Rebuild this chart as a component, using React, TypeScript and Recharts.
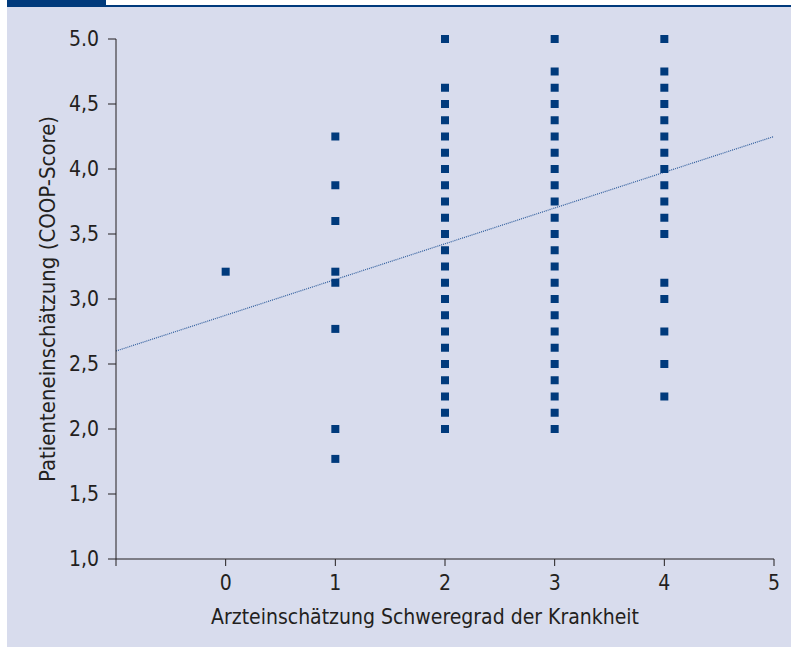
import React from "react";
import {
  ReferenceLine,
  Scatter,
  ScatterChart,
  XAxis,
  YAxis,
} from "recharts";

// Arzteinschätzung (x) -> Patienteneinschätzung (y)
const grade0 = [3.21];
const grade1 = [4.25, 3.875, 3.6, 3.21, 3.125, 2.77, 2.0, 1.77];
const grade2 = [
  5.0, 4.625, 4.5, 4.375, 4.25, 4.125, 4.0, 3.875, 3.75, 3.625, 3.5, 3.375,
  3.25, 3.125, 3.0, 2.875, 2.75, 2.625, 2.5, 2.375, 2.25, 2.125, 2.0,
];
const grade3 = [
  5.0, 4.75, 4.625, 4.5, 4.375, 4.25, 4.125, 4.0, 3.875, 3.75, 3.625, 3.5,
  3.375, 3.25, 3.125, 3.0, 2.875, 2.75, 2.625, 2.5, 2.375, 2.25, 2.125, 2.0,
];
const grade4 = [
  5.0, 4.75, 4.625, 4.5, 4.375, 4.25, 4.125, 4.0, 3.875, 3.75, 3.625, 3.5,
  3.125, 3.0, 2.75, 2.5, 2.25,
];

const xTicks = [-1, 0, 1, 2, 3, 4, 5];
const xTickLabels = ["", "0", "1", "2", "3", "4", "5"];
const yTicks = [1, 1.5, 2, 2.5, 3, 3.5, 4, 4.5, 5];
const yTickLabels = ["1,0", "1,5", "2,0", "2,5", "3,0", "3,5", "4,0", "4,5", "5.0"];

// regression line end points
const trend = [
  { x: -1, y: 2.6 },
  { x: 5, y: 4.25 },
];

const points = [grade0, grade1, grade2, grade3, grade4].flatMap((col, i) =>
  col.map((y) => ({ x: i, y }))
);

const ink = "#231f20";
const blue = "#003a7c";
const font = "'DejaVu Sans Condensed', 'Liberation Sans Narrow', sans-serif";

const SquareDot = (props: any) => {
  const { cx, cy } = props;
  if (cx == null || cy == null) return null;
  return <rect x={cx - 4} y={cy - 4} width={8} height={8} fill={blue} />;
};

export default function App() {
  return (
    <div
      style={{
        position: "fixed",
        left: 0,
        top: 0,
        width: 791,
        height: 647,
        background: "#fff",
        overflow: "hidden",
      }}
    >
      <div
        style={{
          position: "absolute",
          left: 7,
          top: 0,
          width: 784,
          height: 647,
          background: "#d8dced",
        }}
      />
      <div
        style={{
          position: "absolute",
          left: 7,
          top: 0,
          width: 99,
          height: 7,
          background: blue,
        }}
      />
      <div
        style={{
          position: "absolute",
          left: 106,
          top: 0,
          width: 685,
          height: 5,
          background: "#fff",
        }}
      />
      <div
        style={{
          position: "absolute",
          left: 106,
          top: 5,
          width: 685,
          height: 2,
          background: blue,
        }}
      />
      <div style={{ position: "absolute", left: 7, top: 0 }}>
        <ScatterChart
          width={784}
          height={647}
          margin={{ top: 39, right: 17, bottom: 58, left: 0 }}
        >
          <XAxis
            type="number"
            dataKey="x"
            domain={[-1, 5]}
            ticks={xTicks}
            tickFormatter={(v: number) => xTickLabels[xTicks.indexOf(v)]}
            height={30}
            tickSize={7}
            tickMargin={9}
            stroke={ink}
            tick={{ fill: ink, fontSize: 21, fontFamily: font }}
            label={{
              value: "Arzteinschätzung Schweregrad der Krankheit",
              position: "insideBottom",
              offset: -35,
              dx: -20,
              fill: ink,
              fontSize: 21,
              fontFamily: font,
            }}
            allowDataOverflow
          />
          <YAxis
            type="number"
            dataKey="y"
            domain={[1, 5]}
            ticks={yTicks}
            tickFormatter={(v: number) => yTickLabels[yTicks.indexOf(v)]}
            width={109}
            tickSize={8}
            tickMargin={9}
            stroke={ink}
            tick={{ fill: ink, fontSize: 21, fontFamily: font }}
            label={{
              value: "Patienteneinschätzung (COOP-Score)",
              angle: -90,
              position: "insideLeft",
              offset: 40,
              style: { textAnchor: "middle" },
              fill: ink,
              fontSize: 22,
              fontFamily: font,
            }}
          />
          <ReferenceLine
            segment={trend}
            stroke="#2c5b9b"
            strokeWidth={1.2}
            strokeDasharray="1 1"
          />
          <Scatter
            data={points}
            shape={<SquareDot />}
            isAnimationActive={false}
          />
        </ScatterChart>
      </div>
    </div>
  );
}
